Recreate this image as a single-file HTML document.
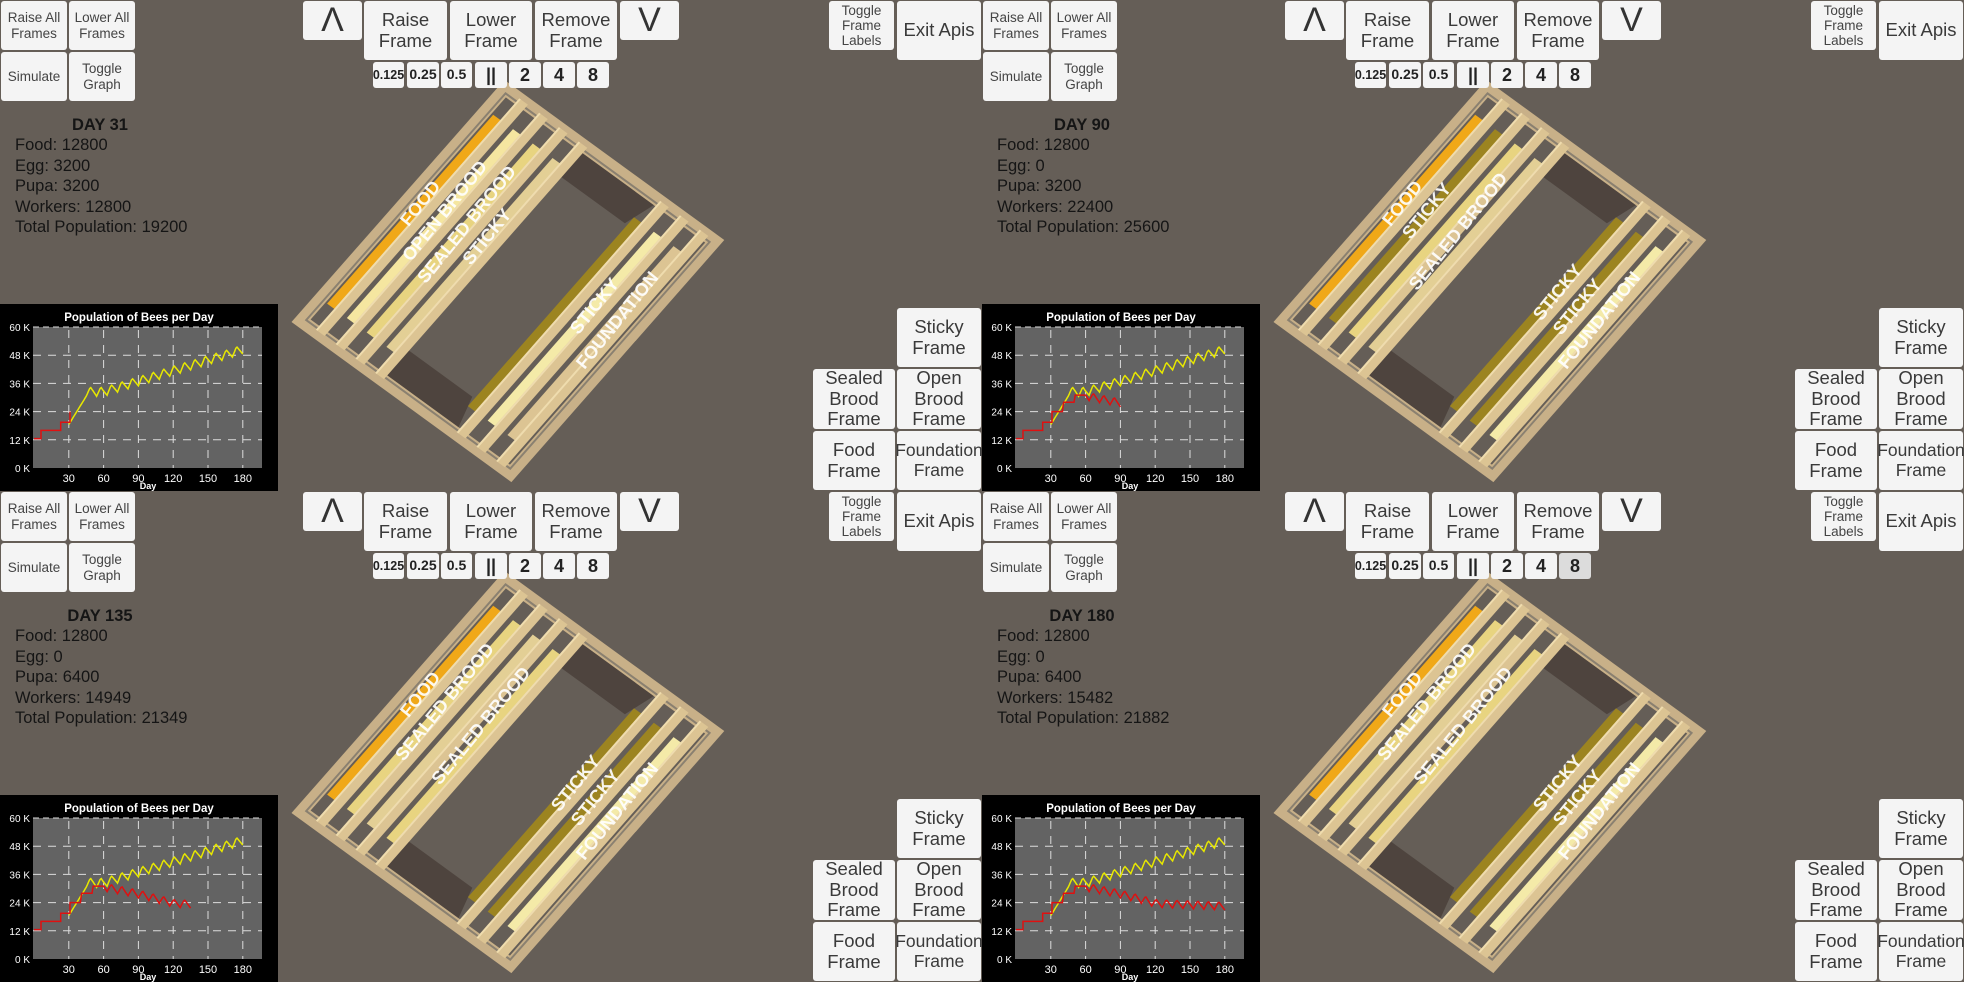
<!DOCTYPE html>
<html><head><meta charset="utf-8">
<style>
*{margin:0;padding:0;box-sizing:border-box}
body{width:1964px;height:982px;background:#655e57;overflow:hidden;position:relative;font-family:"Liberation Sans",sans-serif}
.q{position:absolute;width:982px;height:491px;overflow:hidden}
.b{position:absolute;background:#f4f4f4;border-radius:3px;color:#3a3a3a;display:flex;align-items:center;justify-content:center;text-align:center;line-height:1.12}
.s{font-size:13.5px;color:#444}
.m{font-size:18.5px}
.sp{font-size:14px;font-weight:bold;color:#222}
.st{position:absolute;left:15px;font-size:16.5px;color:#151515}
svg{position:absolute;left:0;top:0}
</style></head><body>
<script>
function btn(x1,y1,x2,y2,cls,txt,extra){return `<div class="b ${cls}" style="left:${x1}px;top:${y1}px;width:${x2-x1}px;height:${y2-y1}px;${extra||''}"><div>${txt}</div></div>`;}
function yv(v){return 468-v*141/60}
function xd(d){return 34+d*1.16}
function yellow(d){
  var base = d<45 ? 20+ (d-30)*0.8 : (d<60? 32: 32+(d-60)*(18/120));
  var ph=(d%9)/9; var z = (ph<0.4? ph/0.4 : 1-(ph-0.4)/0.6)*4;
  if(d<45) z=0;
  return base + z - 1.5;
}
function red(d){
  if(d<=5) return 12.5; if(d<=12) return 16; if(d<=22) return 16; if(d<=30) return 19.5;
  if(d<=40) return 24; if(d<=50) return 28; if(d<=60) return 31;
  var base = d<90 ? 30.5-(d-60)*0.1 : (d<120? 27.5-(d-90)*0.13 : 23.5-(d-120)*0.02);
  var ph=(d%9)/9; var z=(ph<0.4? ph/0.4 : 1-(ph-0.4)/0.6)*3.5;
  return base+z-1.5;
}
function graph(endRed){
  var s='<rect x="0" y="304" width="278" height="187" fill="#000"/>';
  s+='<rect x="33" y="327" width="229" height="141" fill="#636363"/>';
  s+='<text x="139" y="321" fill="#fff" font-size="11.5" font-weight="bold" text-anchor="middle">Population of Bees per Day</text>';
  var labs=['0 K','12 K','24 K','36 K','48 K','60 K'];
  for(var i=0;i<6;i++){var y=yv(i*12);
    s+=`<text x="30" y="${y+4}" fill="#fff" font-size="10" text-anchor="end">${labs[i]}</text>`;
    if(i>0&&i<5) s+=`<line x1="33" x2="262" y1="${y}" y2="${y}" stroke="#ddd" stroke-width="1" stroke-dasharray="8,7"/>`;
    if(i==5) s+=`<line x1="33" x2="262" y1="${y}" y2="${y}" stroke="#ddd" stroke-width="1" stroke-dasharray="6,4"/>`;
  }
  for(var d=30;d<=180;d+=30){var x=xd(d);
    s+=`<line x1="${x}" x2="${x}" y1="330" y2="468" stroke="#ddd" stroke-width="1" stroke-dasharray="8,7"/>`;
    s+=`<text x="${x}" y="482" fill="#fff" font-size="11" text-anchor="middle">${d}</text>`;}
  s+='<text x="148" y="489" fill="#fff" font-size="9" font-weight="bold" text-anchor="middle">Day</text>';
  var p='';for(var d=30;d<=180;d++){p+=xd(d).toFixed(1)+','+yv(yellow(d)).toFixed(1)+' ';}
  s+=`<polyline points="${p}" fill="none" stroke="#e8e800" stroke-width="1.5"/>`;
  p='';var prev=null;for(var d=0;d<=endRed;d++){var v=red(d);if(prev!==null&&d<=31)p+=xd(d).toFixed(1)+','+yv(prev).toFixed(1)+' ';p+=xd(d).toFixed(1)+','+yv(v).toFixed(1)+' ';prev=v;}
  s+=`<polyline points="${p}" fill="none" stroke="#e01010" stroke-width="1.5"/>`;
  return s;
}
function hive(left,right){
  var s='<g transform="matrix(0.678,-0.771,0.791,0.576,291.5,322)">';
  s+='<rect x="0" y="0" width="314" height="278" fill="#c8b088"/>';
  s+='<rect x="10" y="10" width="294" height="258" fill="none" stroke="#8a8070" stroke-width="2"/>';
  s+='<rect x="13" y="13" width="288" height="252" fill="#655e57"/>';
  s+='<polygon points="13,100 45,110 45,190 13,200" fill="#4e443e"/>';
  s+='<polygon points="301,100 270,110 270,190 301,200" fill="#4e443e"/>';
  var combs=left.combs;
  for(var i=0;i<4;i++){var y=10+i*25;
    s+=`<rect x="35" y="${y+5}" width="245" height="10" fill="${combs[i]}"/>`;
    s+=`<rect x="8" y="${y+14}" width="300" height="11" fill="#dcc493"/>`;
    s+=`<rect x="8" y="${y+14}" width="300" height="2" fill="#efdcae"/>`;
  }
  var rc=right.combs;
  for(var i=0;i<3;i++){var y=188+i*25;
    s+=`<rect x="35" y="${y+5}" width="245" height="10" fill="${rc[i]}"/>`;
    s+=`<rect x="8" y="${y+14}" width="300" height="11" fill="#dcc493"/>`;
    s+=`<rect x="8" y="${y+14}" width="300" height="2" fill="#efdcae"/>`;
  }
  s+='</g>';
  left.labels.concat(right.labels).forEach(function(l){
    var lx=l[1], ly=l[2];
    var X=291.5+0.678*lx+0.791*ly, Y=322-0.771*lx+0.576*ly;
    s+=`<text x="0" y="0" transform="translate(${X.toFixed(1)},${Y.toFixed(1)}) rotate(-51)" fill="#fff" font-size="18" font-weight="bold" text-anchor="middle" dominant-baseline="middle" opacity="0.92">${l[0]}</text>`;
  });
  return s;
}
function quad(ox,oy,st,endRed,left,right,hl){
  var h=`<div class="q" style="left:${ox}px;top:${oy}px">`;
  h+='<svg width="982" height="491">'+hive(left,right)+graph(endRed)+'</svg>';
  h+=btn(1,1,67,50,'s','Raise All<br>Frames')+btn(69,1,135,50,'s','Lower All<br>Frames');
  h+=btn(1,52,67,101,'s','Simulate')+btn(69,52,135,101,'s','Toggle<br>Graph');
  h+=btn(303,1,362,40,'','<span style="font-size:34px;color:#333">&#923;</span>');
  h+=btn(364,1,447,60,'m','Raise<br>Frame')+btn(450,1,532,60,'m','Lower<br>Frame')+btn(535,1,617,60,'m','Remove<br>Frame');
  h+=btn(620,1,679,40,'','<span style="font-size:34px;color:#333">V</span>');
  var sp=[[373,404,'0.125','12.5px'],[407,439,'0.25','14px'],[441,472,'0.5','14px'],[475,507,'||','18px'],[509,541,'2','18px'],[543,575,'4','18px'],[577,609,'8','18px']];
  sp.forEach(function(a,i){h+=btn(a[0],62,a[1],88,'sp',a[2],'font-size:'+a[3]+(hl&&i==6?';background:#dcdcdc':''));});
  h+=btn(829,1,894,50,'s','Toggle<br>Frame<br>Labels')+btn(897,1,981,60,'m','Exit Apis');
  h+=btn(897,308,981,367,'m','Sticky<br>Frame')+btn(813,369,895,429,'m','Sealed<br>Brood<br>Frame')+btn(897,369,981,429,'m','Open<br>Brood<br>Frame');
  h+=btn(813,431,895,490,'m','Food<br>Frame')+btn(897,431,981,490,'m','Foundation<br>Frame','font-size:17.5px');
  h+=`<div class="st" style="left:0;width:200px;text-align:center;top:116px;font-weight:bold">${st[0]}</div>`;
  var names=['Food: ','Egg: ','Pupa: ','Workers: ','Total Population: '];
  for(var i=0;i<5;i++)h+=`<div class="st" style="top:${136+i*20.5}px">${names[i]}${st[i+1]}</div>`;
  h+='</div>';return h;
}
var OR='#f0a818',SB='#e8d480',OB='#f5e6a0',LT='#e3cf95',OL='#9c8420',PY='#f4eaa8';
var r1={combs:[OL,PY,'#dcc493'],labels:[['STICKY',187,224],['FOUNDATION',189,251]]};
var r2={combs:[OL,OL,PY],labels:[['STICKY',187,200],['STICKY',187,225],['FOUNDATION',189,251]]};
var out='';
out+=quad(0,0,['DAY 31',12800,3200,3200,12800,19200],31,{combs:[OR,OB,SB,LT],labels:[['FOOD',168,20],['OPEN BROOD',176,44],['SEALED BROOD',178,70],['STICKY',180,94]]},r1,false);
out+=quad(982,0,['DAY 90',12800,0,3200,22400,25600],90,{combs:[OR,OL,SB,LT],labels:[['FOOD',168,20],['STICKY',176,44],['SEALED BROOD',178,82]]},r2,false);
out+=quad(0,491,['DAY 135',12800,0,6400,14949,21349],135,{combs:[OR,SB,LT,SB],labels:[['FOOD',168,20],['SEALED BROOD',176,44],['SEALED BROOD',178,88]]},r2,false);
out+=quad(982,491,['DAY 180',12800,0,6400,15482,21882],180,{combs:[OR,SB,LT,SB],labels:[['FOOD',168,20],['SEALED BROOD',176,44],['SEALED BROOD',178,88]]},r2,true);
document.body.innerHTML=out;
</script>
</body></html>
